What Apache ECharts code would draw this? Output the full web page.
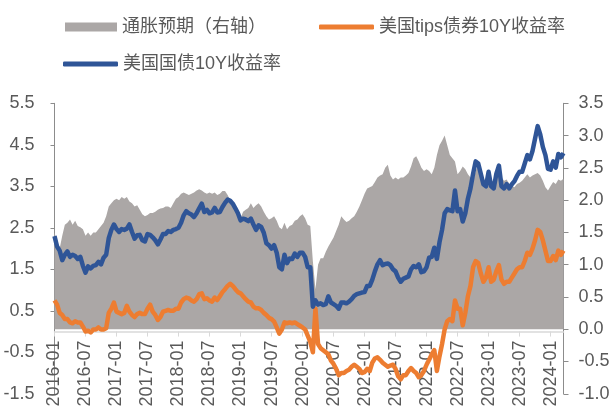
<!DOCTYPE html>
<html>
<head>
<meta charset="utf-8">
<script src="https://cdn.jsdelivr.net/npm/echarts@6/dist/echarts.min.js"></script>
<style>html,body{margin:0;padding:0;background:#fff;}#c{width:613px;height:413px;}</style>
</head>
<body>
<div id="c"></div>
<script>
// Semi-monthly observations (1st and 15th of each month), 2016-01-01 .. 2024-03-15
const categories = [];
for (let y = 2016; y <= 2024; y++) {
  for (let m = 1; m <= 12; m++) {
    if (y === 2024 && m > 3) break;
    const mm = (m < 10 ? '0' : '') + m;
    categories.push(y + '-' + mm + '-01');
    categories.push(y + '-' + mm + '-15');
  }
}

// 美国国债10Y收益率 (left axis)
const ust2016 = [2.30,2.05,1.95,1.72,1.85,1.93,1.80,1.85,1.82,1.75,1.80,1.58,1.42,1.57,1.52,1.58,1.60,1.68,1.62,1.78,1.85,2.25,2.45,2.58];
const ust2017 = [2.47,2.40,2.47,2.45,2.48,2.58,2.40,2.24,2.32,2.33,2.20,2.17,2.35,2.33,2.27,2.20,2.10,2.22,2.35,2.35,2.42,2.40,2.45,2.47];
const ust2018 = [2.50,2.62,2.80,2.90,2.85,2.82,2.76,2.85,2.97,3.08,2.88,2.93,2.85,2.87,2.98,2.87,2.88,3.00,3.10,3.18,3.15,3.08,2.97,2.85];
const ust2019 = [2.68,2.72,2.70,2.66,2.72,2.58,2.45,2.56,2.52,2.38,2.13,2.08,2.00,2.08,1.90,1.55,1.50,1.85,1.65,1.76,1.75,1.88,1.80,1.90];
const ust2020 = [1.90,1.80,1.55,1.55,0.60,0.75,0.65,0.68,0.64,0.66,0.85,0.70,0.66,0.62,0.55,0.70,0.70,0.68,0.72,0.78,0.86,0.90,0.92,0.94];
const ust2021 = [0.95,1.10,1.10,1.25,1.45,1.62,1.72,1.60,1.63,1.64,1.60,1.50,1.45,1.30,1.20,1.27,1.30,1.33,1.50,1.58,1.55,1.62,1.43,1.45];
const ust2022 = [1.55,1.78,1.80,2.02,1.75,2.15,2.45,2.85,2.95,2.92,2.90,3.40,2.90,2.95,2.65,2.85,3.20,3.45,3.80,4.10,4.05,3.80,3.55,3.50];
const ust2023 = [3.85,3.50,3.45,3.80,4.00,3.50,3.45,3.55,3.45,3.55,3.62,3.75,3.85,3.85,4.05,4.25,4.15,4.35,4.65,4.95,4.75,4.45,4.25,3.92];
const ust2024 = [3.90,4.10,3.95,4.28,4.20,4.30];

// 美国tips债券10Y收益率 (left axis)
const tips2016 = [0.75,0.65,0.45,0.40,0.30,0.30,0.22,0.20,0.25,0.22,0.22,0.12,0.00,0.02,-0.02,0.05,0.05,0.10,0.05,0.05,0.08,0.45,0.55,0.70];
const tips2017 = [0.48,0.45,0.42,0.45,0.62,0.48,0.40,0.35,0.42,0.45,0.42,0.42,0.55,0.65,0.48,0.40,0.28,0.35,0.48,0.50,0.52,0.50,0.50,0.55];
const tips2018 = [0.55,0.70,0.78,0.82,0.80,0.75,0.72,0.78,0.90,0.92,0.78,0.80,0.75,0.72,0.82,0.76,0.85,0.95,1.02,1.10,1.15,1.10,1.02,0.95];
const tips2019 = [0.92,0.85,0.78,0.72,0.70,0.60,0.56,0.56,0.52,0.45,0.40,0.33,0.30,0.24,0.10,-0.05,0.05,0.22,0.20,0.22,0.20,0.22,0.18,0.14];
const tips2020 = [0.10,0.05,-0.10,-0.25,-0.50,0.55,-0.30,-0.40,-0.45,-0.50,-0.55,-0.70,-0.78,-0.90,-1.05,-1.00,-1.00,-0.95,-0.92,-0.85,-0.80,-0.85,-0.90,-1.00];
const tips2021 = [-0.98,-0.90,-0.95,-0.75,-0.65,-0.62,-0.68,-0.75,-0.80,-0.85,-0.82,-0.80,-0.90,-1.08,-1.15,-1.05,-1.05,-0.95,-0.88,-0.95,-1.00,-1.10,-1.05,-0.95];
const tips2022 = [-0.80,-0.68,-0.55,-0.45,-0.95,-0.60,-0.30,0.05,0.25,0.30,0.25,0.75,0.55,0.55,0.15,0.45,0.85,1.10,1.55,1.70,1.65,1.40,1.20,1.30];
const tips2023 = [1.55,1.20,1.25,1.45,1.60,1.25,1.15,1.20,1.20,1.30,1.40,1.50,1.55,1.55,1.70,1.90,1.85,2.00,2.20,2.45,2.40,2.20,1.95,1.70];
const tips2024 = [1.70,1.82,1.72,1.95,1.85,1.95];

// 通胀预期（右轴）
const bei2016 = [1.50,1.35,1.25,1.45,1.62,1.65,1.70,1.62,1.68,1.60,1.58,1.55,1.45,1.50,1.45,1.50,1.50,1.55,1.60,1.65,1.75,1.90,1.95,2.00];
const bei2017 = [2.02,2.00,2.05,2.02,2.05,1.98,1.95,1.90,1.92,1.85,1.78,1.75,1.77,1.80,1.80,1.82,1.85,1.87,1.88,1.90,1.90,1.88,1.95,2.02];
const bei2018 = [2.05,2.10,2.12,2.10,2.08,2.10,2.12,2.15,2.17,2.15,2.12,2.10,2.12,2.10,2.12,2.08,2.10,2.14,2.14,2.08,2.00,1.92,1.85,1.78];
const bei2019 = [1.72,1.82,1.85,1.88,1.95,1.88,1.92,1.95,1.90,1.82,1.75,1.70,1.72,1.75,1.68,1.58,1.55,1.65,1.55,1.60,1.62,1.68,1.70,1.75];
const bei2020 = [1.78,1.72,1.62,1.60,1.05,0.62,1.00,1.10,1.10,1.20,1.28,1.35,1.42,1.52,1.62,1.75,1.70,1.66,1.68,1.72,1.75,1.82,1.90,2.00];
const bei2021 = [2.10,2.18,2.20,2.22,2.28,2.35,2.38,2.40,2.50,2.55,2.38,2.32,2.35,2.32,2.35,2.35,2.38,2.42,2.52,2.65,2.68,2.60,2.50,2.45];
const bei2022 = [2.48,2.45,2.40,2.50,2.70,2.85,2.92,3.00,2.85,2.70,2.65,2.60,2.40,2.45,2.52,2.48,2.40,2.35,2.28,2.45,2.55,2.40,2.35,2.25];
const bei2023 = [2.30,2.28,2.30,2.45,2.50,2.35,2.30,2.32,2.25,2.22,2.20,2.25,2.27,2.30,2.35,2.40,2.35,2.38,2.40,2.42,2.38,2.30,2.20,2.15];
const bei2024 = [2.22,2.28,2.25,2.32,2.30,2.33];

const ust = [].concat(ust2016, ust2017, ust2018, ust2019, ust2020, ust2021, ust2022, ust2023, ust2024);
const tips = [].concat(tips2016, tips2017, tips2018, tips2019, tips2020, tips2021, tips2022, tips2023, tips2024);
const bei = [].concat(bei2016, bei2017, bei2018, bei2019, bei2020, bei2021, bei2022, bei2023, bei2024);

const names = ['通胀预期（右轴）', '美国tips债券10Y收益率', '美国国债10Y收益率'];
const FONT = "'Liberation Sans', 'Noto Sans CJK SC', sans-serif";
const TXT = '#595959';
const GRAY = '#ABA7A6', ORANGE = '#ED7D31', BLUE = '#2F5597';

const GRID_TOP = 103.3, GRID_BOTTOM_Y = 393.8;
const LEFT_MIN = -1.5, LEFT_MAX = 5.5;
// place the category axis on the zero line of the left axis
const zeroOffset = (GRID_BOTTOM_Y - GRID_TOP) * (0 - LEFT_MIN) / (LEFT_MAX - LEFT_MIN);

const showLabel = function (idx, val) { return /-(01|07)-01$/.test(val); };

const chart = echarts.init(document.getElementById('c'), null, { renderer: 'canvas' });
chart.setOption({
  animation: false,
  backgroundColor: '#fff',
  textStyle: { fontFamily: FONT },
  legend: [
    { data: [{ name: names[0], icon: 'rect' }], left: 60, top: 13, itemWidth: 52, itemHeight: 9,
      textStyle: { color: TXT, fontSize: 18, fontFamily: FONT } },
    { data: [{ name: names[1], icon: 'roundRect' }], left: 314, top: 13, itemWidth: 55, itemHeight: 5,
      textStyle: { color: TXT, fontSize: 18, fontFamily: FONT } },
    { data: [{ name: names[2], icon: 'roundRect' }], left: 58, top: 50, itemWidth: 55, itemHeight: 5,
      textStyle: { color: TXT, fontSize: 18, fontFamily: FONT } }
  ],
  grid: { left: 54.5, right: 49.5, top: GRID_TOP, bottom: 413 - GRID_BOTTOM_Y, containLabel: false, outerBoundsMode: 'none' },
  xAxis: {
    type: 'category', data: categories, boundaryGap: false, offset: -zeroOffset, z: 0,
    axisLine: { onZero: false, lineStyle: { color: '#D9D9D9', width: 1.5 } },
    axisTick: { show: true, interval: showLabel, length: 5, lineStyle: { color: '#D9D9D9' } },
    axisLabel: { interval: showLabel, rotate: 90, color: TXT, fontSize: 18, fontFamily: FONT, margin: 9,
      formatter: function (v) { return v.slice(0, 7); } },
    splitLine: { show: false }
  },
  yAxis: [
    { type: 'value', position: 'left', min: LEFT_MIN, max: LEFT_MAX, interval: 1,
      axisLine: { show: true, lineStyle: { color: '#8C8C8C' } },
      axisTick: { show: true, length: 4, lineStyle: { color: '#8C8C8C' } },
      splitLine: { show: false },
      axisLabel: { color: TXT, fontSize: 18, fontFamily: FONT, margin: 20,
        formatter: function (v) { return v.toFixed(1); } } },
    { type: 'value', position: 'right', min: -1, max: 3.5, interval: 0.5,
      axisLine: { show: true, lineStyle: { color: '#8C8C8C' } },
      axisTick: { show: true, length: 5, lineStyle: { color: '#8C8C8C' } },
      splitLine: { show: false },
      axisLabel: { color: TXT, fontSize: 18, fontFamily: FONT, margin: 15,
        formatter: function (v) { return v.toFixed(1); } } }
  ],
  series: [
    { name: names[0], type: 'line', yAxisIndex: 1, data: bei, symbol: 'none', z: 1,
      lineStyle: { width: 0 }, itemStyle: { color: GRAY }, areaStyle: { color: GRAY, opacity: 1 } },
    { name: names[1], type: 'line', yAxisIndex: 0, data: tips, symbol: 'none', z: 3,
      lineStyle: { color: ORANGE, width: 4.5, join: 'round' }, itemStyle: { color: ORANGE } },
    { name: names[2], type: 'line', yAxisIndex: 0, data: ust, symbol: 'none', z: 4,
      lineStyle: { color: BLUE, width: 4.5, join: 'round' }, itemStyle: { color: BLUE } }
  ]
});
</script>
</body>
</html>
